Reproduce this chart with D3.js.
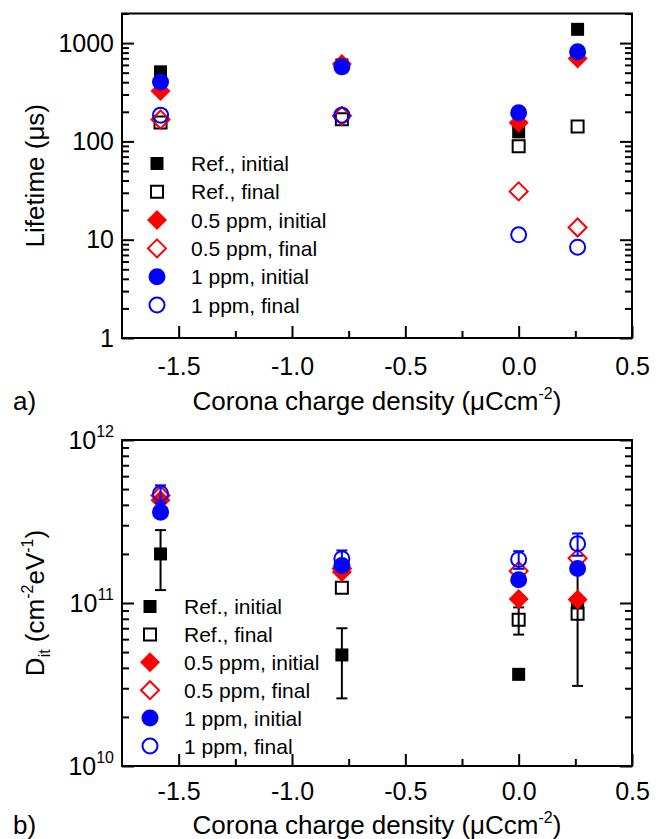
<!DOCTYPE html>
<html>
<head>
<meta charset="utf-8">
<script src="https://cdn.jsdelivr.net/npm/d3@7"></script>
<style>
  body { margin: 0; background: #fff; }
  text { font-family: "Liberation Sans", Arial, sans-serif; }
</style>
</head>
<body>
<svg id="app" width="664" height="839"></svg>
<script>
// corona charge density (µC/cm²) for the four measurement points
const charge = [-1.58, -0.78, 0.0, 0.26];

// lifetime (µs)
const refInitTau = [510, 600, 125, 1380];
const refFinalTau = [156, 168, 89, 142];
const ppm05InitTau = [326, 611, 155, 698];
const ppm05FinalTau = [167, 182, 31, 13.3];
const ppm1InitTau = [403, 573, 196, 815];
const ppm1FinalTau = [185, 185, 11.2, 8.4];

// interface defect density Dit (cm^-2 eV^-1) and errors
const refInitDit = [2.0e11, 4.8e10, 3.65e10, 1.0e11];
const refInitErr = [8.0e10, 2.2e10, null, 6.9e10];
const refFinalDit = [null, 1.24e11, 7.9e10, 8.6e10];
const refFinalErr = [null, null, 1.5e10, null];
const ppm05InitDit = [4.27e11, 1.55e11, 1.06e11, 1.05e11];
const ppm05FinalDit = [4.57e11, 1.63e11, 1.57e11, 1.88e11];
const ppm1InitDit = [3.61e11, 1.70e11, 1.39e11, 1.63e11];
const ppm1FinalDit = [4.69e11, 1.87e11, 1.85e11, 2.31e11];
const ppm1FinalErr = [5.8e10, 2.3e10, 2.3e10, 3.6e10];

const seriesNames = ["Ref., initial", "Ref., final", "0.5 ppm, initial", "0.5 ppm, final", "1 ppm, initial", "1 ppm, final"];
const xTicks = [-1.5, -1.0, -0.5, 0.0, 0.5];
const xMinor = [-1.25, -0.75, -0.25, 0.25];

const styles = [
    {shape: "square", filled: true, color: "#000"},
    {shape: "square", filled: false, color: "#000"},
    {shape: "diamond", filled: true, color: "#ff0000"},
    {shape: "diamond", filled: false, color: "#ff0000"},
    {shape: "circle", filled: true, color: "#0000ff"},
    {shape: "circle", filled: false, color: "#0000ff"},
];

const svg = d3.select("#app");
const left = 122, right = 632;

const x = d3.scaleLinear().domain([-1.75, 0.5]).range([left, right]);

function markerPath(shape, filled) {
    if (shape === "square") {
        const h = filled ? 6.5 : 6;
        return `M${-h},${-h}H${h}V${h}H${-h}Z`;
    }
    if (shape === "diamond") {
        const h = filled ? 10 : 9;
        return `M0,${-h}L${h},0L0,${h}L${-h},0Z`;
    }
    const r = filled ? 8.5 : 7.5;
    return `M${r},0A${r},${r} 0 1,1 ${-r},0A${r},${r} 0 1,1 ${r},0Z`;
}

function drawMarker(g, st, cx, cy) {
    g.append("path")
        .attr("d", markerPath(st.shape, st.filled))
        .attr("transform", `translate(${cx},${cy})`)
        .attr("fill", st.filled ? st.color : "none")
        .attr("stroke", st.color)
        .attr("stroke-width", st.filled ? 0 : 2);
}

function minorLog(lo, hi) {
    const out = [];
    for (let d = lo; d < hi; d *= 10) {
        for (let k = 2; k <= 9; k++) if (d * k <= hi) out.push(d * k);
    }
    return out;
}

function drawPanel(opt) {
    const g = svg.append("g");
    const y = d3.scaleLog().domain(opt.yDomain).range([opt.bottom, opt.top]);

    // x axis
    g.append("g")
        .attr("transform", `translate(0,${opt.bottom})`)
        .call(d3.axisBottom(x).tickValues(xTicks).tickSizeInner(-12).tickSizeOuter(0)
            .tickPadding(opt.xPad).tickFormat(d => d.toFixed(1)))
        .call(a => a.select(".domain").remove())
        .call(a => a.selectAll("line").attr("stroke-width", 2))
        .call(a => a.selectAll("text").attr("font-size", 25).attr("fill", "#000")
            .style("font-family", "Liberation Sans, Arial, sans-serif"));
    g.append("g")
        .attr("transform", `translate(0,${opt.bottom})`)
        .call(d3.axisBottom(x).tickValues(xMinor).tickSizeInner(-7).tickSizeOuter(0).tickFormat(""))
        .call(a => a.select(".domain").remove())
        .call(a => a.selectAll("line").attr("stroke-width", 2));

    // y axes, left and right, ticks inward
    const majors = opt.majors;
    const minors = minorLog(opt.yDomain[0], opt.yDomain[1]).filter(v => !majors.includes(v));
    [[d3.axisLeft, left], [d3.axisRight, right]].forEach(([axisFn, xpos], i) => {
        g.append("g")
            .attr("transform", `translate(${xpos},0)`)
            .call(axisFn(y).tickValues(majors).tickSizeInner(-12).tickSizeOuter(0)
                .tickPadding(8).tickFormat(i === 0 ? opt.yFormat : ""))
            .call(a => a.select(".domain").remove())
            .call(a => a.selectAll("line").attr("stroke-width", 2))
            .call(a => a.selectAll("text").attr("font-size", 25).attr("fill", "#000")
                .style("font-family", "Liberation Sans, Arial, sans-serif"));
        g.append("g")
            .attr("transform", `translate(${xpos},0)`)
            .call(axisFn(y).tickValues(minors).tickSizeInner(-7).tickSizeOuter(0).tickFormat(""))
            .call(a => a.select(".domain").remove())
            .call(a => a.selectAll("line").attr("stroke-width", 2));
    });
    if (opt.superLabels) {
        g.selectAll(".tick text").filter(function () { return this.textContent.startsWith("10^"); })
            .each(function () {
                const t = d3.select(this);
                const p = t.text().split("^");
                t.text("");
                t.append("tspan").text(p[0]);
                t.append("tspan").attr("font-size", 16).attr("dy", "-0.75em").text(p[1]);
            });
    }

    // frame
    g.append("rect")
        .attr("x", left).attr("y", opt.top)
        .attr("width", right - left).attr("height", opt.bottom - opt.top)
        .attr("fill", "none").attr("stroke", "#000").attr("stroke-width", 2);

    // data
    opt.series.forEach((vals, si) => {
        const st = styles[si];
        const err = opt.errors[si];
        vals.forEach((v, i) => {
            if (v == null) return;
            const cx = x(charge[i]);
            if (err && err[i] != null) {
                const y1 = y(v - err[i]), y2 = y(v + err[i]);
                g.append("line").attr("x1", cx).attr("x2", cx).attr("y1", y1).attr("y2", y2)
                    .attr("stroke", st.color).attr("stroke-width", 2);
                [y1, y2].forEach(yy => g.append("line")
                    .attr("x1", cx - 5.5).attr("x2", cx + 5.5).attr("y1", yy).attr("y2", yy)
                    .attr("stroke", st.color).attr("stroke-width", 2));
            }
            drawMarker(g, st, cx, y(v));
        });
    });

    // legend
    seriesNames.forEach((name, i) => {
        const ry = opt.legendY + i * opt.legendStep;
        drawMarker(g, styles[i], opt.legendX, ry);
        g.append("text")
            .attr("x", opt.legendX + 34).attr("y", ry + 7.5)
            .attr("font-size", 21).attr("fill", "#000")
            .text(name);
    });

    // x title
    const xt = g.append("text")
        .attr("x", (left + right) / 2).attr("y", opt.titleY)
        .attr("text-anchor", "middle").attr("font-size", 26);
    xt.append("tspan").text("Corona charge density (\u03bcCcm");
    xt.append("tspan").attr("font-size", 16).attr("dy", -11).text("-2");
    xt.append("tspan").attr("dy", 11).text(")");

    g.append("text")
        .attr("x", 13).attr("y", opt.titleY)
        .attr("font-size", 26).text(opt.tag);

    // y title
    const yt = g.append("text")
        .attr("transform", `translate(44,${(opt.top + opt.bottom) / 2}) rotate(-90)`)
        .attr("text-anchor", "middle").attr("font-size", 26);
    opt.yTitle(yt);
}

drawPanel({
    top: 13.5, bottom: 338,
    yDomain: [1, 2000],
    majors: [1, 10, 100, 1000],
    yFormat: d => String(d),
    xPad: 19,
    titleY: 410,
    series: [refInitTau, refFinalTau, ppm05InitTau, ppm05FinalTau, ppm1InitTau, ppm1FinalTau],
    errors: [null, null, null, null, null, null],
    legendX: 157, legendY: 163.5, legendStep: 28.3,
    tag: "a)",
    yTitle: t => t.text("Lifetime (\u03bcs)"),
});

drawPanel({
    top: 440, bottom: 766,
    yDomain: [1e10, 1e12],
    majors: [1e10, 1e11, 1e12],
    yFormat: d => "10^" + Math.round(Math.log10(d)),
    superLabels: true,
    xPad: 16,
    titleY: 834,
    series: [refInitDit, refFinalDit, ppm05InitDit, ppm05FinalDit, ppm1InitDit, ppm1FinalDit],
    errors: [refInitErr, refFinalErr, null, null, null, ppm1FinalErr],
    legendX: 150, legendY: 606.5, legendStep: 27.9,
    tag: "b)",
    yTitle: t => {
        t.append("tspan").text("D");
        t.append("tspan").attr("font-size", 16).attr("dy", 6).text("it");
        t.append("tspan").attr("dy", -6).text(" (cm");
        t.append("tspan").attr("font-size", 16).attr("dy", -11).text("-2");
        t.append("tspan").attr("dy", 11).text("eV");
        t.append("tspan").attr("font-size", 16).attr("dy", -11).text("-1");
        t.append("tspan").attr("dy", 11).text(")");
    },
});
</script>
</body>
</html>
